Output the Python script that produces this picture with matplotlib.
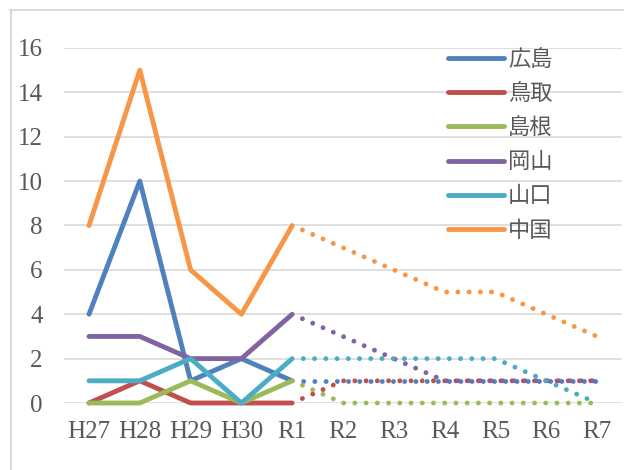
import matplotlib.pyplot as plt
from matplotlib.lines import Line2D

years = ['H27', 'H28', 'H29', 'H30', 'R1', 'R2', 'R3', 'R4', 'R5', 'R6', 'R7']
names = ['広島', '鳥取', '島根', '岡山', '山口', '中国']
colors = ['#4F81BD', '#C0504D', '#9BBB59', '#8064A2', '#4BACC6', '#F79646']

# actual values H27..R1
actual_hiroshima = [4, 10, 1, 2, 1]
actual_tottori = [0, 1, 0, 0, 0]
actual_shimane = [0, 0, 1, 0, 1]
actual_okayama = [3, 3, 2, 2, 4]
actual_yamaguchi = [1, 1, 2, 0, 2]
actual_chugoku = [8, 15, 6, 4, 8]

# planned values R1..R7
plan_hiroshima = [1, 1, 1, 1, 1, 1, 1]
plan_tottori = [0, 1, 1, 1, 1, 1, 1]
plan_shimane = [1, 0, 0, 0, 0, 0, 0]
plan_okayama = [4, 3, 2, 1, 1, 1, 1]
plan_yamaguchi = [2, 2, 2, 2, 2, 1, 0]
plan_chugoku = [8, 7, 6, 5, 5, 4, 3]

actual = [actual_hiroshima, actual_tottori, actual_shimane,
          actual_okayama, actual_yamaguchi, actual_chugoku]
plan = [plan_hiroshima, plan_tottori, plan_shimane,
        plan_okayama, plan_yamaguchi, plan_chugoku]

W, H = 624, 470
fig = plt.figure(figsize=(W / 100, H / 100), dpi=100)
ax = fig.add_axes([63.6 / W, (H - 403) / H, (622.4 - 63.6) / W, 355 / H])

x = list(range(len(years)))
n_act = len(actual_hiroshima)
for vals, c, name in zip(actual, colors, names):
    ax.plot(x[:n_act], vals, color=c, lw=3.5, solid_capstyle='round',
            solid_joinstyle='round', clip_on=False, label=name, zorder=3)
for vals, c in zip(plan, colors):
    ax.plot(x[n_act - 1:], vals, color=c, lw=3.5, linestyle=(0.02, (0.01, 2.3)),
            dash_capstyle='round', clip_on=False, zorder=3)

ax.set_xlim(-0.5, len(years) - 0.5)
ax.set_ylim(0, 16)
ax.set_yticks(range(0, 17, 2))
ax.set_xticks(x)
ax.set_xticklabels(years)
ax.grid(axis='y', color='#D9D9D9', lw=1.2, zorder=0)
for s in ax.spines.values():
    s.set_visible(False)
ax.tick_params(length=0, labelcolor='#595959', labelsize=18)
ax.tick_params(axis='y', pad=15)
ax.tick_params(axis='x', pad=13)
for t in ax.get_xticklabels() + ax.get_yticklabels():
    t.set_family('Liberation Serif')

leg = ax.legend(loc='upper left', bbox_to_anchor=(428 / W, 1 - 28 / H),
                bbox_transform=fig.transFigure, frameon=False,
                handlelength=2.5, handletextpad=0.2, labelspacing=0.5,
                prop={'family': 'Noto Sans CJK JP', 'size': 16})
for t in leg.get_texts():
    t.set_color('#595959')

# chart area border
fig.add_artist(Line2D([10 / W, 1], [1 - 10 / H, 1 - 10 / H], color='#D9D9D9', lw=1.5))
fig.add_artist(Line2D([11 / W, 11 / W], [0, 1 - 10 / H], color='#D9D9D9', lw=1.5))

fig.savefig('out.png', dpi=100)
